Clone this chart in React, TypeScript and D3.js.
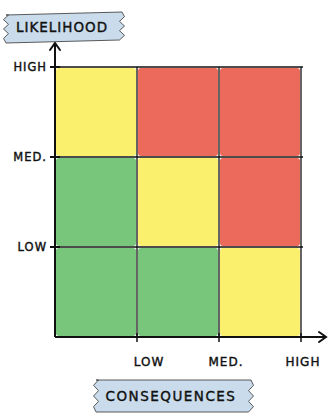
import React from "react";
import * as d3 from "d3";

const consequenceLevels = ["LOW", "MED.", "HIGH"];
const likelihoodLevels = ["LOW", "MED.", "HIGH"];
// risk[row][col]: row = likelihood (LOW..HIGH), col = consequence (LOW..HIGH)
const riskRows = [
  ["low", "low", "mid"],
  ["low", "mid", "high"],
  ["mid", "high", "high"],
];
const riskColors: Record<string, string> = {
  low: "#78C57C",
  mid: "#FAF06E",
  high: "#EC6A5B",
};

const W = 329;
const H = 414;
const left = 55;
const right = 301;
const top = 67;
const bottom = 337;

export default function App() {
  const x = d3.scaleBand().domain(["0", "1", "2"]).range([left, right]);
  const y = d3.scaleBand().domain(["0", "1", "2"]).range([bottom, top]);
  const font = "'DejaVu Sans', sans-serif";
  const cells: React.ReactNode[] = [];
  riskRows.forEach((row, ri) =>
    row.forEach((v, ci) => {
      cells.push(
        <rect
          key={`${ri}-${ci}`}
          x={x(String(ci))! + 1}
          y={y(String(ri))! + 1}
          width={x.bandwidth() - 2}
          height={y.bandwidth() - 2}
          rx={3}
          fill={riskColors[v]}
        />
      );
    })
  );
  const gridX = [1, 2, 3].map((i) => left + i * x.bandwidth());
  const gridY = [0, 1, 2].map((i) => top + i * y.bandwidth());
  const tapePath = (x0: number, y0: number, x1: number, y1: number, tilt: number) => {
    const zig = (xx: number, ya: number, yb: number, dir: number) => {
      const n = 6;
      let s = "";
      for (let i = 1; i <= n; i++) {
        const yy = ya + ((yb - ya) * i) / n;
        const dx = i % 2 ? 2.5 * dir : -2.5 * dir;
        s += ` L${xx + dx},${yy}`;
      }
      return s;
    };
    return (
      `M${x0},${y0 + tilt} L${x1},${y0}` +
      zig(x1, y0, y1, 1) +
      ` L${x0},${y1 + tilt}` +
      zig(x0, y1 + tilt, y0 + tilt, -1) +
      " Z"
    );
  };
  const textStyle = { stroke: "#111", strokeWidth: 0.4 } as React.CSSProperties;
  return (
    <svg
      width={W}
      height={H}
      style={{ position: "absolute", left: 0, top: 0, background: "#fff" }}
    >
      {cells}
      {/* grid lines */}
      {gridX.map((gx, i) => (
        <line key={"gx" + i} x1={gx} x2={gx} y1={top} y2={bottom} stroke="#111" strokeWidth={1.3} />
      ))}
      {gridY.map((gy, i) => (
        <line key={"gy" + i} x1={left} x2={right + 2} y1={gy} y2={gy} stroke="#111" strokeWidth={1.3} />
      ))}
      {/* axes */}
      <line x1={left} x2={left} y1={bottom} y2={43} stroke="#111" strokeWidth={2} />
      <path d={`M${left - 5},${50} L${left},${43} L${left + 5},${50}`} fill="none" stroke="#111" strokeWidth={2} strokeLinecap="round" />
      <line x1={left} x2={326} y1={bottom} y2={bottom} stroke="#111" strokeWidth={2} />
      <path d={`M${319},${bottom - 5} L${326},${bottom} L${319},${bottom + 5}`} fill="none" stroke="#111" strokeWidth={2} strokeLinecap="round" />
      {/* y ticks */}
      {likelihoodLevels.map((lab, i) => {
        const ty = y(String(i))!;
        return (
          <g key={"yt" + i}>
            <line x1={left - 5} x2={left + 5} y1={ty} y2={ty} stroke="#111" strokeWidth={2} />
            <text x={left - 8} y={ty + 4} textAnchor="end" fontFamily={font} fontSize={11.5} fill="#111" letterSpacing={1} style={textStyle}>
              {lab}
            </text>
          </g>
        );
      })}
      {/* x ticks */}
      {consequenceLevels.map((lab, i) => {
        const tx = x(String(i))! + x.bandwidth();
        return (
          <g key={"xt" + i}>
            <line x1={tx} x2={tx} y1={bottom - 4} y2={bottom + 5} stroke="#111" strokeWidth={1.5} />
            <text x={tx + 12 - i * 5} y={bottom + 29} textAnchor="middle" fontFamily={font} fontSize={12} fill="#111" letterSpacing={1} style={textStyle}>
              {lab}
            </text>
          </g>
        );
      })}
      {/* tapes */}
      <path d={tapePath(6, 12, 122, 40, 3)} fill="#CADCEB" stroke="#333" strokeWidth={0.8} />
      <text x={62} y={32} textAnchor="middle" fontFamily={font} fontSize={13.5} fill="#111" letterSpacing={1} style={textStyle}>
        LIKELIHOOD
      </text>
      <path d={tapePath(96, 380, 251, 412, 0)} fill="#CADCEB" stroke="#333" strokeWidth={0.8} />
      <text x={171} y={401} textAnchor="middle" fontFamily={font} fontSize={13.5} fill="#111" letterSpacing={1.5} style={textStyle}>
        CONSEQUENCES
      </text>
    </svg>
  );
}
